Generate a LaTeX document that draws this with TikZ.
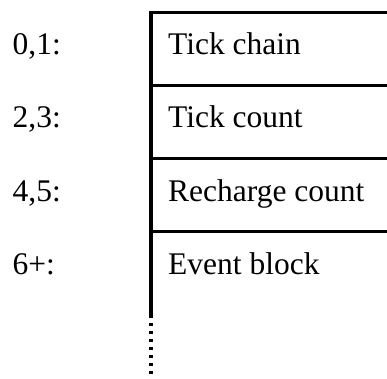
\documentclass[tikz,border=0pt]{standalone}
\usepackage{fontspec}
\setmainfont{Liberation Serif}
\begin{document}
\begin{tikzpicture}[x=1pt,y=1pt,
  lbl/.style={anchor=base west,inner sep=0pt,font=\fontsize{31.5}{36}\selectfont},
  sep/.style={line width=3.3pt},
  spine/.style={line width=3.5pt},
  tail/.style={line width=3.5pt,dash pattern=on 3pt off 5pt}]
\useasboundingbox (0,0) rectangle (387,-378);
% separators
\coordinate (s0) at (149.05,-12.5);
\coordinate (s1) at (150.8,-85.5);
\coordinate (s2) at (150.8,-158.5);
\coordinate (s3) at (150.8,-231.5);
\coordinate (e0) at (387,-12.5);
\coordinate (e1) at (387,-85.5);
\coordinate (e2) at (387,-158.5);
\coordinate (e3) at (387,-231.5);
\coordinate (vt) at (150.8,-10.85);
\coordinate (vb) at (150.8,-318);
\coordinate (dt) at (150.8,-323);
\coordinate (db) at (150.8,-378);
\draw[sep] (s0) -- (e0);
\draw[sep] (s1) -- (e1);
\draw[sep] (s2) -- (e2);
\draw[sep] (s3) -- (e3);
\draw[spine] (vt) -- (vb);
\draw[tail] (dt) -- (db);
% labels
\node[lbl] (a0) at (12.5,-54) {0,1:};
\node[lbl] (a1) at (12.5,-127) {2,3:};
\node[lbl] (a2) at (12.5,-201) {4,5:};
\node[lbl] (a3) at (12.5,-274) {6+:};
\node[lbl] (b0) at (168,-54) {Tick chain};
\node[lbl] (b1) at (168,-127) {Tick count};
\node[lbl] (b2) at (168,-201) {Recharge count};
\node[lbl] (b3) at (168,-274) {Event block};
\end{tikzpicture}
\end{document}
